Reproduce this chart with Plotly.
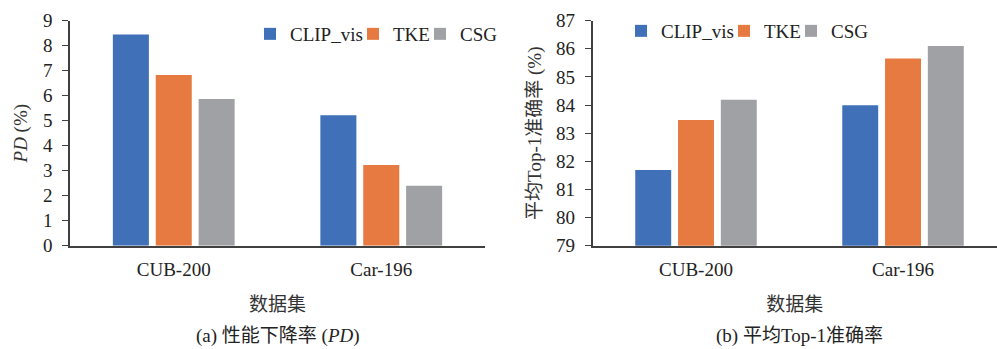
import plotly.graph_objects as go

categories = ["CUB-200", "Car-196"]
series_names = ["CLIP_vis", "TKE", "CSG"]
pd_values = {
    "CLIP_vis": [8.45, 5.22],
    "TKE": [6.83, 3.23],
    "CSG": [5.87, 2.40],
}
acc_values = {
    "CLIP_vis": [81.69, 83.99],
    "TKE": [83.47, 85.66],
    "CSG": [84.19, 86.10],
}
pd_ticks = list(range(0, 10))
acc_ticks = list(range(79, 88))
colors = {"CLIP_vis": "#3F70B8", "TKE": "#E67A40", "CSG": "#A0A1A5"}

W, H = 997, 349
FONT = "Liberation Serif, Times New Roman, Noto Sans CJK SC, serif"
AX = "#404040"

def px(v):
    return v / W

def py(v):
    return 1 - v / H

# legend box left positions (px) for each entry in each panel
leg_left = {"CLIP_vis": 250, "TKE": 353, "CSG": 420}
leg_right = {"CLIP_vis": 621, "TKE": 724, "CSG": 791}

fig = go.Figure()
legends = {}
k = 1
for name in series_names:
    lid = "legend" if k == 1 else f"legend{k}"
    fig.add_trace(go.Bar(x=categories, y=pd_values[name], name=name,
                         marker=dict(color=colors[name], line=dict(width=0)),
                         xaxis="x", yaxis="y", legend=lid, showlegend=True))
    legends[lid] = (leg_left[name], 34)
    k += 1
for name in series_names:
    lid = f"legend{k}"
    fig.add_trace(go.Bar(x=categories, y=acc_values[name], name=name,
                         marker=dict(color=colors[name], line=dict(width=0)),
                         xaxis="x2", yaxis="y2", legend=lid, showlegend=True))
    legends[lid] = (leg_right[name], 31)
    k += 1

ydom = [py(245.7), py(20.7)]
common_x = dict(type="category", showline=True, linecolor=AX, linewidth=1.5,
                ticks="", showgrid=False, zeroline=False, automargin=False,
                tickfont=dict(size=19, color="#222"), ticklabelstandoff=6,
                title=dict(text="数据集", font=dict(size=19, color="#333"), standoff=18))
common_y = dict(showline=True, linecolor=AX, linewidth=1.5, ticks="outside",
                ticklen=6, tickcolor=AX, tickwidth=1.2, showgrid=False, zeroline=False,
                automargin=False,
                tickfont=dict(size=19, color="#222"), ticklabelstandoff=6)

layout_legends = {}
for lid, (lx, ly) in legends.items():
    layout_legends[lid] = dict(orientation="h", x=px(lx), y=py(ly),
                               xanchor="left", yanchor="middle", visible=True,
                               font=dict(size=19, color="#222"),
                               bgcolor="rgba(0,0,0,0)", itemwidth=30)

fig.update_layout(
    width=W, height=H,
    margin=dict(l=0, r=0, t=0, b=0, autoexpand=False),
    paper_bgcolor="white", plot_bgcolor="white",
    font=dict(family=FONT, color="#222"),
    showlegend=True,
    barmode="group", bargap=0.38, bargroupgap=0.16,
    xaxis=dict(common_x, domain=[px(70), px(485)], anchor="y", range=[-0.5, 1.5]),
    yaxis=dict(common_y, domain=ydom, anchor="x", range=[0, 9], tickvals=pd_ticks,
               title=dict(text="<i>PD</i> (%)", font=dict(size=19, color="#333"), standoff=10)),
    xaxis2=dict(common_x, domain=[px(592.5), 1.0], anchor="y2", range=[-0.5, 1.454]),
    yaxis2=dict(common_y, domain=ydom, anchor="x2", range=[79, 87], tickvals=acc_ticks,
                title=dict(text="平均Top-1准确率 (%)", font=dict(size=19, color="#333"), standoff=9)),
    annotations=[
        dict(text="(a) 性能下降率 (<i>PD</i>)", x=px(277.5), y=py(336), xref="paper", yref="paper",
             showarrow=False, xanchor="center", yanchor="middle", font=dict(size=19, color="#222")),
        dict(text="(b) 平均Top-1准确率", x=px(799), y=py(336), xref="paper", yref="paper",
             showarrow=False, xanchor="center", yanchor="middle", font=dict(size=19, color="#222")),
    ],
    **layout_legends,
)

fig.write_html("out.html", config={"displayModeBar": False},
               post_script="document.body.style.margin='0';document.body.style.padding='0';")
